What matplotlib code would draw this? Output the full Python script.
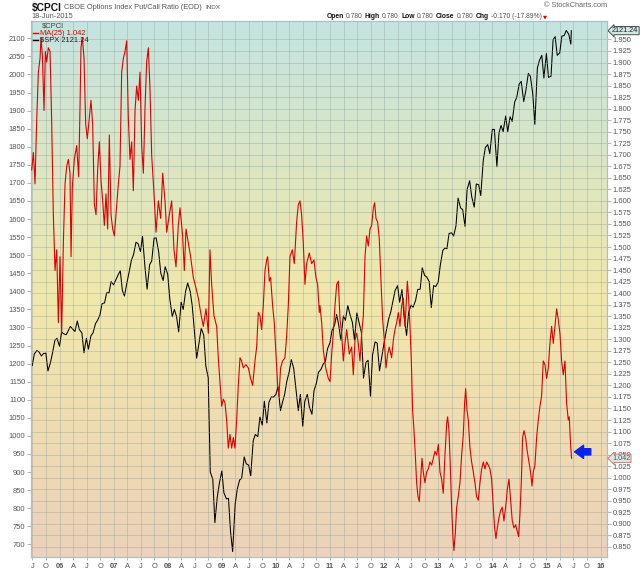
import numpy as np
import pandas as pd
import matplotlib
matplotlib.use('Agg')
import matplotlib.pyplot as plt
import matplotlib.transforms as mtransforms
from matplotlib.colors import LinearSegmentedColormap

plt.rcParams['font.family'] = ['Liberation Sans', 'DejaVu Sans']

# ---------------- data ----------------
# S&P 500 ($SPX), sampled on the 1st and 15th of each month
spx_2005 = [1206, 1194, 1227, 1236, 1233, 1221, 1228, 1229, 1180, 1203, 1230, 1265, 1270]
spx_2006 = [1248, 1287, 1282, 1280, 1291, 1303, 1295, 1289, 1318, 1294, 1285, 1230,
            1270, 1240, 1277, 1285, 1311, 1320, 1335, 1366, 1368, 1396, 1396, 1427]
spx_2007 = [1418, 1431, 1446, 1457, 1403, 1387, 1424, 1452, 1486, 1501, 1536, 1532,
            1510, 1552, 1465, 1406, 1474, 1484, 1547, 1548, 1509, 1451, 1430, 1468]
spx_2008 = [1447, 1380, 1330, 1350, 1330, 1288, 1370, 1350, 1400, 1423, 1400, 1360,
            1284, 1215, 1260, 1298, 1278, 1193, 1161, 900, 880, 760, 830, 868]
spx_2009 = [903, 843, 826, 827, 735, 680, 811, 852, 878, 883, 942, 923,
            919, 890, 987, 1004, 998, 1052, 1030, 1096, 1036, 1093, 1108, 1107]
spx_2010 = [1115, 1136, 1070, 1094, 1115, 1150, 1178, 1211, 1187, 1135, 1070, 1115,
            1027, 1096, 1115, 1080, 1060, 1125, 1146, 1176, 1184, 1198, 1206, 1241]
spx_2011 = [1258, 1293, 1307, 1336, 1306, 1265, 1332, 1320, 1361, 1337, 1314, 1265,
            1340, 1316, 1286, 1160, 1204, 1209, 1110, 1224, 1260, 1257, 1180, 1216]
spx_2012 = [1258, 1289, 1324, 1343, 1374, 1402, 1416, 1370, 1405, 1330, 1278, 1342,
            1362, 1356, 1375, 1405, 1406, 1465, 1444, 1440, 1427, 1355, 1416, 1413]
spx_2013 = [1426, 1472, 1513, 1520, 1518, 1560, 1562, 1553, 1582, 1658, 1631, 1626,
            1580, 1682, 1706, 1662, 1633, 1697, 1695, 1665, 1762, 1798, 1806, 1781]
spx_2014 = [1848, 1848, 1745, 1838, 1859, 1842, 1885, 1842, 1883, 1870, 1924, 1937,
            1973, 1981, 1925, 1955, 2003, 1995, 1946, 1862, 2018, 2039, 2053, 1990]
spx_2015 = [2058, 1992, 1995, 2096, 2105, 2053, 2060, 2106, 2108, 2122, 2111, 2084]
spx_last = 2121.24

# $CPCI MA(25), positions in decimal years
cpci_years = [
    2005.486, 2005.517, 2005.547, 2005.578, 2005.609, 2005.640, 2005.658, 2005.683, 2005.714, 2005.738,
    2005.763, 2005.794, 2005.825, 2005.855, 2005.886, 2005.917, 2005.948, 2005.979, 2006.009, 2006.040,
    2006.071, 2006.102, 2006.133, 2006.163, 2006.194, 2006.213, 2006.237, 2006.274, 2006.317, 2006.354,
    2006.379, 2006.397, 2006.422, 2006.453, 2006.484, 2006.514, 2006.551, 2006.582, 2006.613, 2006.644,
    2006.675, 2006.705, 2006.736, 2006.767, 2006.798, 2006.829, 2006.859, 2006.890, 2006.921, 2006.952,
    2006.983, 2007.013, 2007.044, 2007.088, 2007.118, 2007.149, 2007.180, 2007.211, 2007.242, 2007.272,
    2007.303, 2007.334, 2007.365, 2007.396, 2007.426, 2007.457, 2007.488, 2007.519, 2007.550, 2007.581,
    2007.611, 2007.642, 2007.673, 2007.704, 2007.747, 2007.784, 2007.827, 2007.870, 2007.907, 2007.950,
    2007.981, 2008.030, 2008.073, 2008.116, 2008.153, 2008.196, 2008.227, 2008.276, 2008.307, 2008.338,
    2008.381, 2008.424, 2008.473, 2008.523, 2008.566, 2008.609, 2008.658, 2008.708, 2008.751, 2008.781,
    2008.812, 2008.855, 2008.905, 2008.935, 2008.966, 2008.997, 2009.028, 2009.059, 2009.089, 2009.120,
    2009.151, 2009.182, 2009.213, 2009.243, 2009.274, 2009.305, 2009.336, 2009.366, 2009.397, 2009.446,
    2009.490, 2009.533, 2009.570, 2009.613, 2009.644, 2009.675, 2009.705, 2009.736, 2009.767, 2009.798,
    2009.829, 2009.847, 2009.878, 2009.902, 2009.939, 2009.970, 2010.001, 2010.032, 2010.056, 2010.087,
    2010.124, 2010.167, 2010.198, 2010.229, 2010.260, 2010.303, 2010.340, 2010.383, 2010.414, 2010.445,
    2010.475, 2010.506, 2010.537, 2010.568, 2010.617, 2010.660, 2010.703, 2010.740, 2010.771, 2010.802,
    2010.815, 2010.846, 2010.877, 2010.920, 2010.969, 2011.000, 2011.031, 2011.061, 2011.092, 2011.123,
    2011.154, 2011.185, 2011.215, 2011.246, 2011.277, 2011.308, 2011.357, 2011.400, 2011.431, 2011.462,
    2011.493, 2011.523, 2011.554, 2011.585, 2011.616, 2011.647, 2011.677, 2011.708, 2011.739, 2011.770,
    2011.801, 2011.825, 2011.850, 2011.881, 2011.911, 2011.942, 2011.973, 2012.004, 2012.035, 2012.066,
    2012.096, 2012.139, 2012.170, 2012.201, 2012.232, 2012.263, 2012.293, 2012.324, 2012.355, 2012.386,
    2012.404, 2012.429, 2012.453, 2012.478, 2012.503, 2012.527, 2012.552, 2012.577, 2012.601, 2012.626,
    2012.651, 2012.675, 2012.700, 2012.724, 2012.755, 2012.786, 2012.817, 2012.848, 2012.879, 2012.909,
    2012.940, 2012.971, 2013.002, 2013.033, 2013.063, 2013.094, 2013.125, 2013.156, 2013.174, 2013.199,
    2013.223, 2013.248, 2013.273, 2013.291, 2013.316, 2013.341, 2013.371, 2013.402, 2013.433, 2013.464,
    2013.488, 2013.507, 2013.532, 2013.556, 2013.587, 2013.618, 2013.649, 2013.679, 2013.710, 2013.741,
    2013.772, 2013.803, 2013.833, 2013.864, 2013.895, 2013.926, 2013.956, 2013.987, 2014.018, 2014.043,
    2014.067, 2014.092, 2014.123, 2014.154, 2014.184, 2014.215, 2014.246, 2014.277, 2014.308, 2014.338,
    2014.369, 2014.400, 2014.431, 2014.462, 2014.486, 2014.511, 2014.536, 2014.560, 2014.585, 2014.616,
    2014.646, 2014.677, 2014.708, 2014.733, 2014.757, 2014.788, 2014.819, 2014.850, 2014.881, 2014.911,
    2014.942, 2014.973, 2015.004, 2015.035, 2015.065, 2015.096, 2015.127, 2015.158, 2015.189, 2015.219,
    2015.250, 2015.281, 2015.312, 2015.343, 2015.373, 2015.404, 2015.422, 2015.447, 2015.465]
cpci_ma25 = [
    1.667, 1.705, 1.637, 1.773, 1.879, 1.909, 1.954, 1.916, 1.796, 1.924,
    1.901, 1.932, 1.924, 1.773, 1.570, 1.449, 1.494, 1.336, 1.479, 1.313,
    1.509, 1.637, 1.675, 1.690, 1.660, 1.479, 1.630, 1.690, 1.720, 1.652,
    1.803, 1.932, 1.954, 1.909, 1.766, 1.735, 1.781, 1.818, 1.766, 1.592,
    1.570, 1.667, 1.728, 1.645, 1.600, 1.547, 1.615, 1.539, 1.743, 1.570,
    1.539, 1.524, 1.570, 1.637, 1.675, 1.879, 1.909, 1.924, 1.947, 1.781,
    1.690, 1.728, 1.622, 1.796, 1.849, 1.818, 1.879, 1.720, 1.660, 1.803,
    1.901, 1.932, 1.841, 1.698, 1.615, 1.532, 1.600, 1.562, 1.660, 1.600,
    1.532, 1.570, 1.600, 1.494, 1.457, 1.547, 1.585, 1.524, 1.449, 1.539,
    1.509, 1.479, 1.434, 1.411, 1.389, 1.358, 1.328, 1.366, 1.313, 1.494,
    1.419, 1.351, 1.328, 1.260, 1.208, 1.155, 1.170, 1.162, 1.125, 1.064,
    1.094, 1.064, 1.087, 1.064, 1.125, 1.200, 1.260, 1.253, 1.238, 1.245,
    1.238, 1.215, 1.200, 1.253, 1.283, 1.358, 1.351, 1.321, 1.373, 1.449,
    1.472, 1.479, 1.426, 1.434, 1.373, 1.336, 1.268, 1.200, 1.177, 1.238,
    1.253, 1.260, 1.306, 1.373, 1.479, 1.494, 1.464, 1.554, 1.592, 1.600,
    1.570, 1.509, 1.419, 1.464, 1.487, 1.464, 1.472, 1.434, 1.419, 1.358,
    1.373, 1.336, 1.276, 1.238, 1.215, 1.208, 1.268, 1.313, 1.373, 1.419,
    1.426, 1.343, 1.313, 1.253, 1.291, 1.321, 1.268, 1.283, 1.223, 1.298,
    1.313, 1.291, 1.253, 1.313, 1.351, 1.479, 1.524, 1.502, 1.539, 1.547,
    1.585, 1.596, 1.562, 1.554, 1.517, 1.426, 1.343, 1.298, 1.238, 1.268,
    1.283, 1.260, 1.298, 1.321, 1.336, 1.358, 1.328, 1.373, 1.389, 1.328,
    1.366, 1.426, 1.389, 1.328, 1.253, 1.147, 1.102, 1.049, 0.989, 0.959,
    0.948, 0.997, 1.042, 1.012, 0.989, 1.012, 1.019, 1.034, 1.027, 1.042,
    1.057, 1.049, 1.072, 1.012, 0.997, 0.966, 1.049, 1.117, 1.132, 1.102,
    1.027, 0.936, 0.870, 0.842, 0.880, 0.936, 0.959, 0.989, 1.049, 1.094,
    1.162, 1.193, 1.147, 1.125, 1.064, 1.034, 1.012, 0.989, 0.959, 0.951,
    0.989, 1.019, 1.034, 1.019, 1.034, 1.027, 1.019, 0.997, 0.936, 0.891,
    0.868, 0.891, 0.913, 0.929, 0.936, 0.906, 0.936, 0.974, 0.997, 0.951,
    0.906, 0.891, 0.898, 0.883, 0.872, 0.921, 0.989, 1.087, 1.102, 1.087,
    1.057, 1.034, 1.012, 0.982, 1.012, 1.027, 1.087, 1.125, 1.155, 1.177,
    1.253, 1.245, 1.215, 1.238, 1.291, 1.328, 1.291, 1.328, 1.366, 1.343,
    1.313, 1.253, 1.223, 1.253, 1.162, 1.125, 1.132, 1.072, 1.042]

left_ticks = list(range(700, 2101, 50))
right_ticks = [round(0.85 + 0.025 * i, 3) for i in range(45)]

# ---------------- helpers ----------------
def dec_year(ts):
    days = 366 if ts.is_leap_year else 365
    return ts.year + (ts.dayofyear - 1) / days

spx_dates = []
for y in range(2005, 2016):
    for m in range(1, 13):
        for d in (1, 15):
            t = pd.Timestamp(y, m, d)
            if pd.Timestamp(2005, 6, 15) <= t <= pd.Timestamp(2015, 6, 15):
                spx_dates.append(t)
spx_dates.append(pd.Timestamp(2015, 6, 18))
spx_values = (spx_2005 + spx_2006 + spx_2007 + spx_2008 + spx_2009 + spx_2010 +
              spx_2011 + spx_2012 + spx_2013 + spx_2014 + spx_2015 + [spx_last])
n = min(len(spx_dates), len(spx_values))
spx_x = [dec_year(t) for t in spx_dates[:n]]
spx_y = spx_values[:n]

# ---------------- figure ----------------
W, H = 640, 569
fig = plt.figure(figsize=(W / 100, H / 100), dpi=100)
fig.patch.set_facecolor('white')
L, R, T, B = 31, 607, 21, 557
ax = fig.add_axes([L / W, 1 - B / H, (R - L) / W, (B - T) / H])

cmap = LinearSegmentedColormap.from_list(
    'bg', [(0.0, '#ebd2ba'), (0.25, '#efdcb2'), (0.48, '#f1e8aa'), (0.72, '#dde6c2'), (1.0, '#c4e4e1')])
grad = np.linspace(0, 1, 256).reshape(-1, 1)
ax.imshow(grad, extent=[0, 1, 0, 1], transform=ax.transAxes, aspect='auto',
          cmap=cmap, origin='lower', zorder=0, interpolation='bicubic')

XMIN, XMAX = 2005.473, 2016.12
ax.set_xlim(XMIN, XMAX)
ax.set_ylim(665, 2148)

ax.plot(spx_x, spx_y, color='black', lw=0.75, zorder=3)

ax2 = ax.twinx()
ax2.set_ylim(0.828, 1.990)
ax2.set_xlim(XMIN, XMAX)
ax2.plot(cpci_years, cpci_ma25, color='#e00000', lw=0.8, zorder=3)

grid_color = '#8fa39a'
xt, xl = [], []
for i in range(43):
    pos = 2005.5 + 0.25 * i
    q = int(round((pos % 1) * 4)) % 4
    xt.append(pos)
    if q == 0:
        xl.append('%02d' % (int(round(pos)) % 100))
    else:
        xl.append(['', 'A', 'J', 'O'][q])
ax.set_xticks(xt)
ax.set_xticklabels(xl)
for lab in ax.get_xticklabels():
    if lab.get_text().isdigit():
        lab.set_fontweight('bold')
        lab.set_color('#222222')
ax.tick_params(axis='x', length=2, width=0.5, color='#999999', labelsize=5.4,
               labelcolor='#555555', pad=2)
ax.grid(axis='x', color=grid_color, lw=0.6, alpha=0.45)

ax.set_yticks(left_ticks)
ax.set_yticklabels([str(v) for v in left_ticks])
ax.tick_params(axis='y', length=3, width=0.5, color='#999999', labelsize=5.4,
               labelcolor='#555555', pad=1)

ax2.set_yticks(right_ticks)
ax2.set_yticklabels(['%.3f' % v for v in right_ticks])
ax2.tick_params(axis='y', length=3, width=0.5, color='#999999', labelsize=5.4,
                labelcolor='#555555', pad=1)
ax2.grid(axis='y', color=grid_color, lw=0.6, alpha=0.45)
ax2.set_axisbelow(True)

for a in (ax, ax2):
    for s in a.spines.values():
        s.set_color('#a9bfcc')
        s.set_linewidth(0.8)

# ---------------- legend ----------------
def axpos(px, py):
    return (px - L) / (R - L), (B - py) / (B - T)

x0, y0 = axpos(41.7, 25.5)
ax2.text(x0, y0, '$CPCI', transform=ax2.transAxes, fontsize=5.4, color='#444444', va='center', ha='left')
xa, ya = axpos(33.0, 33.3)
xb, _ = axpos(38.3, 33.3)
ax2.plot([xa, xb], [ya, ya], transform=ax2.transAxes, color='#e00000', lw=1.0, clip_on=False)
xt_, _ = axpos(40.0, 33.3)
ax2.text(xt_, ya, 'MA(25) 1.042', transform=ax2.transAxes, fontsize=5.4, color='#e00000', va='center')
_, yb = axpos(0, 40.3)
ax2.plot([xa, xb], [yb, yb], transform=ax2.transAxes, color='black', lw=1.0, clip_on=False)
ax2.text(xt_, yb, '$SPX 2121.24', transform=ax2.transAxes, fontsize=5.4, color='#222222', va='center')

# ---------------- right side value boxes ----------------
tr1 = mtransforms.blended_transform_factory(ax.transAxes, ax.transData)
ax.text(1.009, spx_last, '2121.24', transform=tr1, fontsize=5.2, color='#222222',
        va='center', ha='left', zorder=10,
        bbox=dict(boxstyle='larrow,pad=0.08', fc='#cde8e4', ec='#333333', lw=0.6))
tr2 = mtransforms.blended_transform_factory(ax2.transAxes, ax2.transData)
ax2.text(1.009, cpci_ma25[-1], '1.042', transform=tr2, fontsize=5.2, color='#555555',
         va='center', ha='left', zorder=10,
         bbox=dict(boxstyle='larrow,pad=0.08', fc='#d4ece8', ec='#e06060', lw=0.6))

# blue arrow
ax2.annotate('', xy=(2015.52, 1.056), xytext=(2015.82, 1.056),
             arrowprops=dict(arrowstyle='simple,head_length=0.65,head_width=0.95,tail_width=0.45',
                             fc='#0a22ee', ec='#0a22ee', mutation_scale=10,
                             shrinkA=0, shrinkB=0))

# ---------------- header ----------------
fig.canvas.draw()
renderer = fig.canvas.get_renderer()

def place_seq(x_start, py, pieces, gap=3.0, align_right=None):
    """Lay pieces left to right with a pixel gap; optionally right-align the run."""
    arts = []
    x = x_start
    for s, kw in pieces:
        t = fig.text(x / W, 1 - py / H, s, va='center', ha='left', **kw)
        w = t.get_window_extent(renderer).width
        arts.append((t, x))
        x += w + gap
    if align_right is not None:
        shift = align_right - (x - gap)
        for t, x0_ in arts:
            t.set_x((x0_ + shift) / W)
    return arts

gray = '#555555'
place_seq(31.5, 7.5, [('$CPCI', dict(fontsize=7.4, fontweight='bold', color='#111111')),
                      ('CBOE Options Index Put/Call Ratio (EOD)', dict(fontsize=5.3, color=gray)),
                      ('INDX', dict(fontsize=4.5, color=gray))], gap=3.0)
fig.text(31.5 / W, 1 - 16.5 / H, '18-Jun-2015', fontsize=5.3, color=gray, va='center', ha='left')
fig.text(607 / W, 1 - 5.5 / H, '\u00a9 StockCharts.com', fontsize=5.3, color='#666666',
         va='center', ha='right')

hb = dict(fontsize=4.9, fontweight='bold', color='#111111')
hn = dict(fontsize=4.9, color=gray)
place_seq(352.0, 16.5, [('Open', hb), ('0.780', hn), ('High', hb), ('0.780', hn),
                        ('Low', hb), ('0.780', hn), ('Close', hb), ('0.780', hn),
                        ('Chg', hb), ('-0.170 (-17.89%)', hn)], gap=2.2, align_right=541.5)
fig.text(545.0 / W, 1 - 17.0 / H, '\u25bc', fontsize=3.8, color='#dd0000',
         family=['DejaVu Sans'], va='center', ha='center')

fig.savefig('out.png', dpi=100)
